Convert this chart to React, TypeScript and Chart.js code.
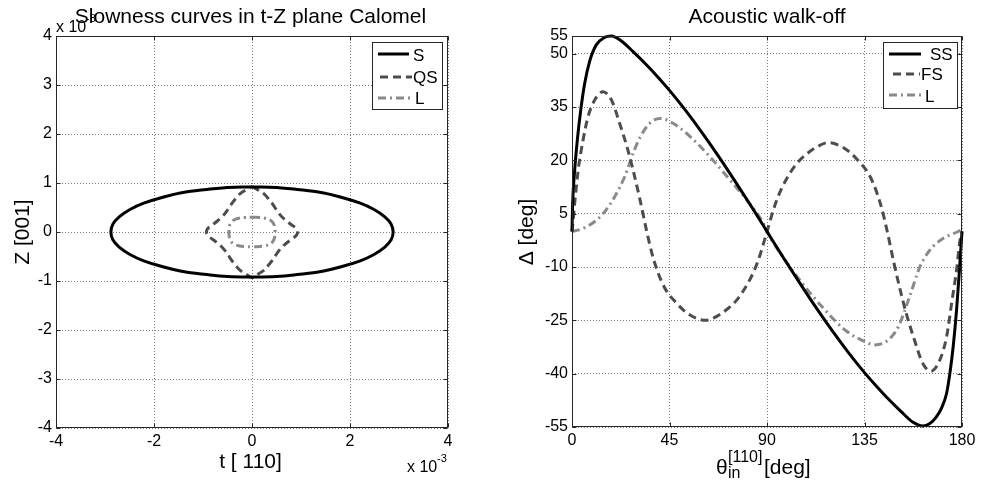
import React, { useEffect, useRef } from "react";
import { Chart, registerables } from "chart.js";

Chart.register(...registerables);

const FONT = "'Liberation Sans', Arial, Helvetica, sans-serif";

// ---------------- Left panel: slowness curves (units of 1e-3) ----------------
const leftTitle = "Slowness curves in t-Z plane Calomel";
const leftXLabel = "t [ 110]";
const leftYLabel = "Z [001]";
const leftXTicks = [-4, -2, 0, 2, 4];
const leftYTicks = [-4, -3, -2, -1, 0, 1, 2, 3, 4];
const leftLegend = ["S", "QS", "L"];

const sX = [0, 0.5, 0.98, 1.44, 1.85, 2.21, 2.49, 2.71, 2.84, 2.88, 2.84, 2.71, 2.49, 2.21, 1.85, 1.44, 0.98, 0.5, 0,
  -0.5, -0.98, -1.44, -1.85, -2.21, -2.49, -2.71, -2.84, -2.88, -2.84, -2.71, -2.49, -2.21, -1.85, -1.44, -0.98, -0.5, 0];
const sY = [0.92, 0.91, 0.86, 0.8, 0.7, 0.59, 0.46, 0.31, 0.16, 0, -0.16, -0.31, -0.46, -0.59, -0.7, -0.8, -0.86, -0.91, -0.92,
  -0.91, -0.86, -0.8, -0.7, -0.59, -0.46, -0.31, -0.16, 0, 0.16, 0.31, 0.46, 0.59, 0.7, 0.8, 0.86, 0.91, 0.92];

const qsX = [0, 0.12, 0.24, 0.33, 0.41, 0.48, 0.55, 0.63, 0.7, 0.77, 0.84, 0.89, 0.92, 0.93,
  0.92, 0.89, 0.84, 0.77, 0.7, 0.63, 0.55, 0.48, 0.41, 0.33, 0.24, 0.12, 0,
  -0.12, -0.24, -0.33, -0.41, -0.48, -0.55, -0.63, -0.7, -0.77, -0.84, -0.89, -0.92, -0.93,
  -0.92, -0.89, -0.84, -0.77, -0.7, -0.63, -0.55, -0.48, -0.41, -0.33, -0.24, -0.12, 0];
const qsY = [0.93, 0.86, 0.785, 0.685, 0.585, 0.48, 0.38, 0.29, 0.23, 0.175, 0.125, 0.085, 0.045, 0,
  -0.045, -0.085, -0.125, -0.175, -0.23, -0.29, -0.38, -0.48, -0.585, -0.685, -0.785, -0.86, -0.93,
  -0.86, -0.785, -0.685, -0.585, -0.48, -0.38, -0.29, -0.23, -0.175, -0.125, -0.085, -0.045, 0,
  0.045, 0.085, 0.125, 0.175, 0.23, 0.29, 0.38, 0.48, 0.585, 0.685, 0.785, 0.86, 0.93];

const lX = [0, 0.15, 0.27, 0.36, 0.42, 0.46, 0.47, 0.46, 0.42, 0.36, 0.27, 0.15, 0,
  -0.15, -0.27, -0.36, -0.42, -0.46, -0.47, -0.46, -0.42, -0.36, -0.27, -0.15, 0];
const lY = [0.3, 0.295, 0.28, 0.25, 0.2, 0.12, 0, -0.12, -0.2, -0.25, -0.28, -0.295, -0.3,
  -0.295, -0.28, -0.25, -0.2, -0.12, 0, 0.12, 0.2, 0.25, 0.28, 0.295, 0.3];

// ---------------- Right panel: acoustic walk-off (deg) ----------------
const rightTitle = "Acoustic walk-off";
const rightYLabel = "\u0394 [deg]";
const rightXTicks = [0, 45, 90, 135, 180];
const rightYTicks = [-55, -40, -25, -10, 5, 20, 35, 50, 55];
const rightLegend = ["SS", "FS", "L"];

const ssX = [0, 0.3, 1.2, 2.5, 4, 5.8, 8.2, 11.2, 15, 18.2, 22.8, 28.2, 35, 40, 45, 52.5, 60, 67.5, 75, 82.5, 90,
  97.5, 105, 112.5, 120, 127.5, 135, 140, 145, 151.8, 157.2, 162, 165, 168, 170.6, 172.9, 174.5, 176, 177.5, 178.8, 180];
const ssY = [0, 8, 17, 26, 34, 41.5, 48, 52.5, 54.6, 55, 53.6, 50.6, 46.5, 43.2, 39.7, 34, 27.85, 21.3, 14.4, 7.3, 0,
  -7.3, -14.4, -21.3, -27.85, -34, -39.7, -43.2, -46.5, -50.6, -53.6, -54.7, -54.1, -52.3, -49.6, -45.5, -39.5, -32, -22, -11, 0];

const fsX = [0, 2.8, 5.1, 7.4, 10.5, 14.3, 18.2, 22, 25.8, 28.3, 31.4, 34.5, 37.5, 42.2, 48.3, 54.5, 61.8, 67, 71.7, 76, 79.4, 83.5, 86, 88, 90,
  92, 94, 96.5, 100.6, 104, 108.3, 113, 118.2, 125.5, 131.7, 137.8, 142.5, 145.5, 148.6, 151.7, 154.2, 158, 161.8, 165.7, 169.8, 172.9, 175.2, 177.5, 179.1, 180];
const fsY = [0, 17, 25.7, 32.3, 37, 39.3, 37, 30.4, 22.9, 17, 8.9, 0, -7.5, -15.2, -20.2, -23.5, -25, -23.8, -21.8, -19.3, -16.4, -11.8, -8, -4.2, 0,
  4.2, 8, 11.8, 16.4, 19.3, 21.8, 23.8, 25, 23.5, 20.2, 15.2, 7.5, 0, -8.9, -17, -22.9, -30.4, -37, -39.3, -36.1, -29.6, -20.2, -10.8, -2.4, 0];

const lwX = [0, 4.3, 10.5, 15.1, 19.7, 24.3, 28.2, 31.4, 36, 40.6, 46.8, 54.5, 63.7, 72.9, 80.6, 88.3, 90,
  98.3, 107.5, 116.8, 126, 135.2, 139.8, 146, 150.6, 156, 160.6, 165.2, 171.4, 178.3, 180];
const lwY = [0, 0.7, 2.8, 5.6, 9.8, 15.4, 22, 26.5, 30.5, 31.8, 30.4, 26.7, 21, 14.5, 8.9, 2.3, 0,
  -8, -15.5, -22.1, -27.7, -31, -31.9, -30.5, -26.8, -18, -9.9, -5.2, -1.9, 0, 0.5];

// ---------------- styles ----------------
const BLACK = "#000000";
const DARK = "#4d4d4d";
const LIGHT = "#8a8a8a";
const DASH = [8, 5];
const DASHDOT = [8, 4, 2, 4];
const FRAME = "#262626";

type TextItem = { text: string; x: number; y: number; size: number; align?: CanvasTextAlign; rotate?: boolean };
type LegendItem = { label: string; color: string; dash: number[]; x0: number; x1: number; ly: number; tx: number; ty: number };
type Decor = { texts: TextItem[]; box: [number, number, number, number]; legend: LegendItem[] };

function zip(xs: number[], ys: number[]) {
  return xs.map((x, i) => ({ x, y: ys[i] }));
}

function makeDecor(spec: Decor) {
  return {
    id: "decor",
    afterDraw(chart: any) {
      const { ctx, chartArea: a, scales } = chart;
      ctx.save();
      ctx.setLineDash([]);
      ctx.strokeStyle = FRAME;
      ctx.lineWidth = 1;
      const L = Math.round(a.left) + 0.5, T = Math.round(a.top) + 0.5;
      const R = Math.round(a.right) - 0.5, B = Math.round(a.bottom) - 0.5;
      ctx.strokeRect(L, T, R - L, B - T);
      ctx.beginPath();
      for (const t of scales.x.ticks) {
        const p = Math.round(scales.x.getPixelForValue(t.value)) + 0.5;
        ctx.moveTo(p, B); ctx.lineTo(p, B - 4);
        ctx.moveTo(p, T); ctx.lineTo(p, T + 4);
      }
      for (const t of scales.y.ticks) {
        const p = Math.round(scales.y.getPixelForValue(t.value)) + 0.5;
        ctx.moveTo(L, p); ctx.lineTo(L + 4, p);
        ctx.moveTo(R, p); ctx.lineTo(R - 4, p);
      }
      ctx.stroke();
      const [bx0, by0, bx1, by1] = spec.box;
      ctx.fillStyle = "#ffffff";
      ctx.fillRect(bx0, by0, bx1 - bx0, by1 - by0);
      ctx.strokeStyle = FRAME;
      ctx.strokeRect(bx0 + 0.5, by0 + 0.5, bx1 - bx0 - 1, by1 - by0 - 1);
      for (const it of spec.legend) {
        ctx.save();
        ctx.strokeStyle = it.color;
        ctx.lineWidth = 3;
        ctx.setLineDash(it.dash);
        ctx.beginPath();
        ctx.moveTo(it.x0, it.ly);
        ctx.lineTo(it.x1, it.ly);
        ctx.stroke();
        ctx.restore();
        ctx.fillStyle = "#000";
        ctx.font = `17px ${FONT}`;
        ctx.textAlign = "left";
        ctx.textBaseline = "alphabetic";
        ctx.fillText(it.label, it.tx, it.ty);
      }
      for (const t of spec.texts) {
        ctx.save();
        ctx.fillStyle = "#000";
        ctx.font = `${t.size}px ${FONT}`;
        ctx.textAlign = t.align || "left";
        ctx.textBaseline = "alphabetic";
        if (t.rotate) {
          ctx.translate(t.x, t.y);
          ctx.rotate(-Math.PI / 2);
          ctx.fillText(t.text, 0, 0);
        } else {
          ctx.fillText(t.text, t.x, t.y);
        }
        ctx.restore();
      }
      ctx.restore();
    },
  };
}

function scaleOpts(min: number, max: number, ticks: number[], fitKey: "width" | "height", fitVal: number) {
  return {
    type: "linear",
    min,
    max,
    afterBuildTicks: (s: any) => {
      s.ticks = ticks.map((v) => ({ value: v }));
    },
    afterFit: (s: any) => {
      s[fitKey] = fitVal;
    },
    grid: { color: "#7a7a7a", lineWidth: 1, drawTicks: false },
    border: { display: false, dash: [1, 2] },
    ticks: {
      padding: 4,
      color: "#000",
      font: { family: FONT, size: 16 },
      autoSkip: false,
      maxRotation: 0,
      callback: (v: any) => String(v),
    },
  };
}

function line(label: string, xs: number[], ys: number[], color: string, dash: number[], extra: any) {
  return {
    label,
    data: zip(xs, ys),
    showLine: true,
    borderColor: color,
    backgroundColor: color,
    borderWidth: 3,
    borderDash: dash,
    borderJoinStyle: "round",
    pointRadius: 0,
    pointHoverRadius: 0,
    fill: false,
    clip: false,
    ...extra,
  };
}

function LeftChart() {
  const ref = useRef<HTMLCanvasElement>(null);
  useEffect(() => {
    const decor = makeDecor({
      texts: [
        { text: "x 10", x: 56, y: 32, size: 16 },
        { text: "-3", x: 86, y: 22, size: 11 },
        { text: leftTitle, x: 250.5, y: 23, size: 21, align: "center" },
        { text: leftXLabel, x: 250.5, y: 468, size: 21, align: "center" },
        { text: "x 10", x: 407, y: 472, size: 16 },
        { text: "-3", x: 437, y: 462, size: 11 },
        { text: leftYLabel, x: 29, y: 232, size: 21, align: "center", rotate: true },
      ],
      box: [372, 42, 443, 110],
      legend: [
        { label: leftLegend[0], color: BLACK, dash: [], x0: 378, x1: 409, ly: 54, tx: 413, ty: 61 },
        { label: leftLegend[1], color: DARK, dash: DASH, x0: 380, x1: 412, ly: 77, tx: 413, ty: 83 },
        { label: leftLegend[2], color: LIGHT, dash: DASHDOT, x0: 378, x1: 410, ly: 98, tx: 415, ty: 104 },
      ],
    });
    const chart = new Chart(ref.current as HTMLCanvasElement, {
      type: "scatter",
      data: {
        datasets: [
          line(leftLegend[0], sX, sY, BLACK, [], { tension: 0.4 }),
          line(leftLegend[1], qsX, qsY, DARK, DASH, { tension: 0.4 }),
          line(leftLegend[2], lX, lY, LIGHT, DASHDOT, { tension: 0.4 }),
        ],
      } as any,
      options: {
        responsive: false,
        animation: false,
        devicePixelRatio: 1,
        layout: { padding: { left: 0, right: 42, top: 36, bottom: 0 } },
        plugins: { legend: { display: false }, title: { display: false }, tooltip: { enabled: false } },
        scales: {
          x: scaleOpts(-4, 4, leftXTicks, "height", 60),
          y: scaleOpts(-4, 4, leftYTicks, "width", 56),
        } as any,
      },
      plugins: [decor as any],
    });
    return () => chart.destroy();
  }, []);
  return <canvas ref={ref} width={490} height={488} style={{ position: "absolute", left: 0, top: 0 }} />;
}

function RightChart() {
  const ref = useRef<HTMLCanvasElement>(null);
  useEffect(() => {
    const decor = makeDecor({
      texts: [
        { text: rightTitle, x: 277, y: 23, size: 21, align: "center" },
        { text: rightYLabel, x: 43, y: 232, size: 21, align: "center", rotate: true },
        { text: "\u03B8", x: 226, y: 474, size: 21 },
        { text: "[110]", x: 238, y: 462, size: 16 },
        { text: "in", x: 238, y: 478, size: 16 },
        { text: "[deg]", x: 274, y: 474, size: 21 },
      ],
      box: [393, 42, 468, 109],
      legend: [
        { label: rightLegend[0], color: BLACK, dash: [], x0: 399, x1: 431, ly: 54, tx: 440, ty: 60 },
        { label: rightLegend[1], color: DARK, dash: DASH, x0: 403, x1: 430, ly: 74, tx: 431, ty: 80 },
        { label: rightLegend[2], color: LIGHT, dash: DASHDOT, x0: 399, x1: 431, ly: 95, tx: 435, ty: 102 },
      ],
    });
    const chart = new Chart(ref.current as HTMLCanvasElement, {
      type: "scatter",
      data: {
        datasets: [
          line(rightLegend[0], ssX, ssY, BLACK, [], { cubicInterpolationMode: "monotone" }),
          line(rightLegend[1], fsX, fsY, DARK, DASH, { cubicInterpolationMode: "monotone" }),
          line(rightLegend[2], lwX, lwY, LIGHT, DASHDOT, { cubicInterpolationMode: "monotone" }),
        ],
      } as any,
      options: {
        responsive: false,
        animation: false,
        devicePixelRatio: 1,
        layout: { padding: { left: 0, right: 19, top: 36, bottom: 0 } },
        plugins: { legend: { display: false }, title: { display: false }, tooltip: { enabled: false } },
        scales: {
          x: scaleOpts(0, 180, rightXTicks, "height", 61),
          y: scaleOpts(-55, 55, rightYTicks, "width", 82),
        } as any,
      },
      plugins: [decor as any],
    });
    return () => chart.destroy();
  }, []);
  return <canvas ref={ref} width={491} height={488} style={{ position: "absolute", left: 490, top: 0 }} />;
}

export default function App() {
  return (
    <div style={{ position: "absolute", left: 0, top: 0, width: 981, height: 488, background: "#ffffff", overflow: "hidden" }}>
      <LeftChart />
      <RightChart />
    </div>
  );
}
